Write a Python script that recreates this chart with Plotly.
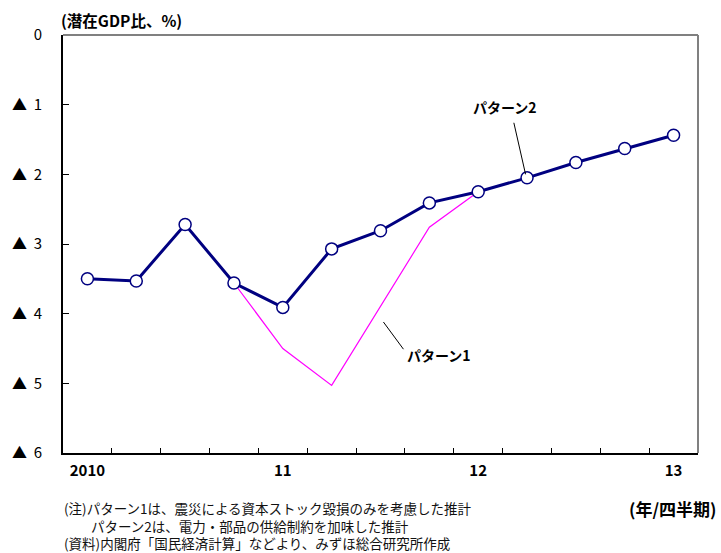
import plotly.graph_objects as go

quarters = ["2010Q1", "2010Q2", "2010Q3", "2010Q4", "2011Q1", "2011Q2", "2011Q3",
            "2011Q4", "2012Q1", "2012Q2", "2012Q3", "2012Q4", "2013Q1"]
pattern2 = [-3.50, -3.53, -2.72, -3.56, -3.91, -3.07, -2.81, -2.41, -2.25, -2.05, -1.83, -1.63, -1.44]
pattern1 = [None, None, None, -3.56, -4.50, -5.03, -3.90, -2.76, -2.25, None, None, None, None]
year_labels = ["2010", "11", "12", "13"]
year_idx = [0, 4, 8, 12]
y_ticks = [0, -1, -2, -3, -4, -5, -6]
y_ticktext = ["0", "▲\u00a0\u00a01", "▲\u00a0\u00a02", "▲\u00a0\u00a03", "▲\u00a0\u00a04",
              "▲\u00a0\u00a05", "▲\u00a0\u00a06"]
note_lines = [
    "(注)パターン1は、震災による資本ストック毀損のみを考慮した推計",
    "　　パターン2は、電力・部品の供給制約を加味した推計",
    "(資料)内閣府「国民経済計算」などより、みずほ総合研究所作成",
]

xpos = [i + 0.5 for i in range(len(quarters))]
FONT = "Noto Sans CJK JP"
PW, PH = 641, 418  # plot area size in px

fig = go.Figure()
fig.add_trace(go.Scatter(x=xpos, y=pattern1, mode="lines",
                         line=dict(color="#FF00FF", width=1.2), connectgaps=False,
                         showlegend=False, hoverinfo="skip"))
fig.add_trace(go.Scatter(x=xpos, y=pattern2, mode="lines+markers",
                         line=dict(color="#000080", width=3),
                         marker=dict(size=12, color="white", line=dict(color="#000080", width=1.5)),
                         showlegend=False))
fig.add_trace(go.Scatter(x=xpos, y=pattern2, xaxis="x2", mode="markers",
                         marker=dict(opacity=0), showlegend=False, hoverinfo="skip"))

fig.update_layout(
    width=721, height=553,
    margin=dict(l=57, r=23, t=35, b=100),
    paper_bgcolor="white", plot_bgcolor="white",
    font=dict(family=FONT, size=13, color="black"),
    xaxis=dict(range=[0, 13], tickvals=list(range(14)), ticktext=[""] * 14,
               ticks="inside", ticklen=5, tickcolor="black", showgrid=False,
               zeroline=False, showline=True, linecolor="black", linewidth=2,
               mirror=False, fixedrange=True),
    xaxis2=dict(range=[0, 13], overlaying="x", side="bottom", anchor="y",
                tickvals=[xpos[i] for i in year_idx], ticktext=year_labels,
                ticks="", showline=False, showgrid=False, zeroline=False,
                tickfont=dict(family=FONT, size=15, color="black", weight="bold"),
                ticklabelstandoff=7, fixedrange=True),
    yaxis=dict(range=[-6, 0], tickvals=y_ticks, ticktext=y_ticktext,
               ticks="inside", ticklen=6, tickcolor="black", showgrid=False,
               zeroline=False, showline=True, linecolor="black", linewidth=2,
               tickfont=dict(family=FONT, size=15, color="black"),
               ticklabelstandoff=16, fixedrange=True),
)

fig.add_shape(type="line", xref="paper", yref="paper", x0=0, x1=1, y0=1, y1=1,
              line=dict(color="#808080", width=2))
fig.add_shape(type="line", xref="paper", yref="paper", x0=1, x1=1, y0=0, y1=1,
              line=dict(color="#808080", width=2))

fig.add_shape(type="line", xref="x", yref="y", x0=9.23, y0=-1.26, x1=9.47, y1=-2.0,
              line=dict(color="black", width=1))
fig.add_shape(type="line", xref="x", yref="y", x0=6.56, y0=-4.12, x1=6.97, y1=-4.51,
              line=dict(color="black", width=1))

fig.add_annotation(x=9.05, y=-1.04, xref="x", yref="y", text="パターン2", showarrow=False,
                   font=dict(family=FONT, size=14, color="black", weight="bold"))
fig.add_annotation(x=7.7, y=-4.6, xref="x", yref="y", text="パターン1", showarrow=False,
                   font=dict(family=FONT, size=14, color="black", weight="bold"))

fig.add_annotation(xref="paper", yref="paper", x=(53 - 57) / PW, y=1 + (35 - 20) / PH,
                   text="(潜在GDP比、%)", showarrow=False, xanchor="left", yanchor="middle",
                   font=dict(family=FONT, size=15.5, color="black", weight="bold"))

fig.add_annotation(xref="paper", yref="paper", x=0, y=-(497 - 453) / PH,
                   text="<br>".join(note_lines), showarrow=False, xanchor="left",
                   yanchor="top", align="left", borderpad=0,
                   font=dict(family=FONT, size=13.5, color="#111111"))

fig.add_annotation(xref="paper", yref="paper", x=(718 - 57) / PW, y=-(508 - 453) / PH,
                   text="(年/四半期)", showarrow=False, xanchor="right", yanchor="middle",
                   font=dict(family=FONT, size=17, color="black", weight="bold"))

fig.write_html("out.html", config={"displayModeBar": False},
               post_script="document.body.style.margin='0';")
